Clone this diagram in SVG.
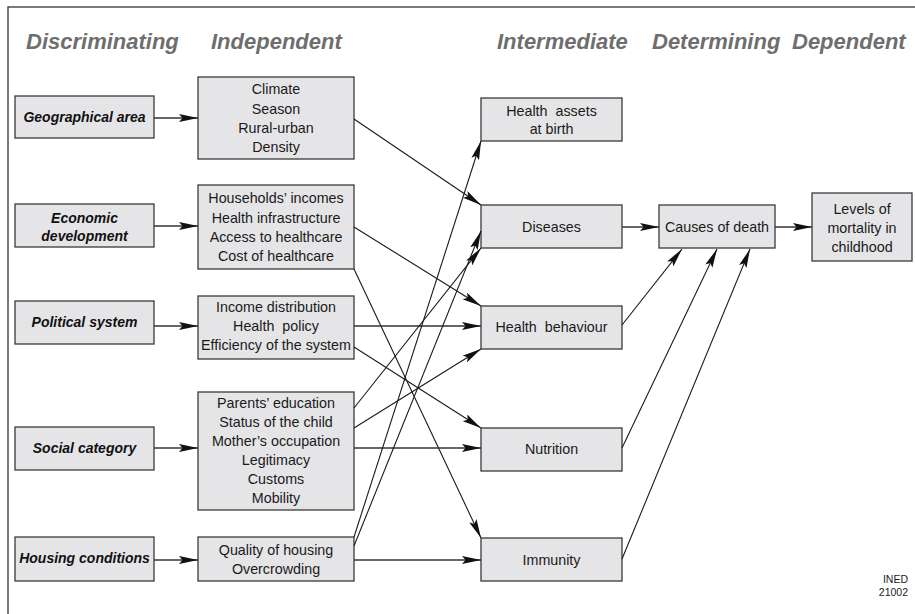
<svg xmlns="http://www.w3.org/2000/svg" width="915" height="614" viewBox="0 0 915 614">
<style>
.hdr{font-family:"Liberation Sans",Arial,sans-serif;font-size:22px;font-weight:bold;font-style:italic;fill:#6e6e6e}
.box{fill:#e5e5e7;stroke:#3a3a3a;stroke-width:1.3}
.lt{font-family:"Liberation Sans",Arial,sans-serif;font-size:14px;font-weight:bold;font-style:italic;fill:#111;text-anchor:middle}
.t{font-family:"Liberation Sans",Arial,sans-serif;font-size:14.3px;fill:#1a1a1a;text-anchor:middle}
.c{fill:none;stroke:#1a1a1a;stroke-width:1.1;marker-end:url(#ah)}
.h{stroke:#333;stroke-width:1.3}
.note{font-family:"Liberation Sans",Arial,sans-serif;font-size:10.5px;fill:#222;text-anchor:end}
</style>
<defs>
<marker id="ah" markerUnits="userSpaceOnUse" markerWidth="19" markerHeight="8" refX="19" refY="4" orient="auto" viewBox="0 0 19 8">
<path d="M0,0 L19,4 L0,8 L3.5,4 z" fill="#111"/>
</marker>
</defs>
<rect x="0" y="0" width="915" height="614" fill="#fff"/>
<rect x="8" y="7" width="920" height="620" fill="none" stroke="#333" stroke-width="1.3"/>

<g id="headers">
<text class="hdr" x="26" y="49">Discriminating</text>
<text class="hdr" x="211" y="49">Independent</text>
<text class="hdr" x="497" y="49">Intermediate</text>
<text class="hdr" x="652" y="49">Determining</text>
<text class="hdr" x="792" y="49">Dependent</text>
</g>

<g id="geo"><rect class="box" x="15" y="96" width="139" height="42"/><text class="lt" x="84.5" y="122">Geographical area</text></g>
<g id="eco"><rect class="box" x="15" y="204" width="139" height="43"/><text class="lt" x="84.5" y="223">Economic</text><text class="lt" x="84.5" y="241">development</text></g>
<g id="pol"><rect class="box" x="15" y="301" width="139" height="43"/><text class="lt" x="84.5" y="327">Political system</text></g>
<g id="soc"><rect class="box" x="15" y="427" width="139" height="43"/><text class="lt" x="84.5" y="453">Social category</text></g>
<g id="hou"><rect class="box" x="15" y="537" width="139" height="44"/><text class="lt" x="84.5" y="563">Housing conditions</text></g>

<g id="climate"><rect class="box" x="198" y="77" width="156" height="82"/>
<text class="t" x="276" y="94">Climate</text><text class="t" x="276" y="114">Season</text><text class="t" x="276" y="133">Rural-urban</text><text class="t" x="276" y="152">Density</text></g>
<g id="incomes"><rect class="box" x="198" y="185" width="156" height="84"/>
<text class="t" x="276" y="203">Households’ incomes</text><text class="t" x="276" y="223">Health infrastructure</text><text class="t" x="276" y="242">Access to healthcare</text><text class="t" x="276" y="261">Cost of healthcare</text></g>
<g id="distribution"><rect class="box" x="198" y="296" width="156" height="63"/>
<text class="t" x="276" y="312">Income distribution</text><text class="t" x="276" y="331" xml:space="preserve">Health  policy</text><text class="t" x="276" y="350">Efficiency of the system</text></g>
<g id="education"><rect class="box" x="198" y="392" width="156" height="118"/>
<text class="t" x="276" y="408">Parents’ education</text><text class="t" x="276" y="427">Status of the child</text><text class="t" x="276" y="446">Mother’s occupation</text><text class="t" x="276" y="465">Legitimacy</text><text class="t" x="276" y="484">Customs</text><text class="t" x="276" y="503">Mobility</text></g>
<g id="housing"><rect class="box" x="198" y="537" width="156" height="44"/>
<text class="t" x="276" y="555">Quality of housing</text><text class="t" x="276" y="574">Overcrowding</text></g>

<g id="assets"><rect class="box" x="481" y="98" width="141" height="43"/><text class="t" x="551.5" y="116" xml:space="preserve">Health  assets</text><text class="t" x="551.5" y="134">at birth</text></g>
<g id="diseases"><rect class="box" x="481" y="205" width="141" height="43"/><text class="t" x="551.5" y="232">Diseases</text></g>
<g id="behaviour"><rect class="box" x="481" y="306" width="141" height="43"/><text class="t" x="551.5" y="332" xml:space="preserve">Health  behaviour</text></g>
<g id="nutrition"><rect class="box" x="481" y="428" width="141" height="43"/><text class="t" x="551.5" y="454">Nutrition</text></g>
<g id="immunity"><rect class="box" x="481" y="538" width="141" height="43"/><text class="t" x="551.5" y="565">Immunity</text></g>

<g id="causes"><rect class="box" x="659" y="205" width="116" height="43"/><text class="t" x="717" y="232">Causes of death</text></g>
<g id="levels"><rect class="box" x="812" y="193" width="100" height="68"/>
<text class="t" x="862" y="214">Levels of</text><text class="t" x="862" y="233">mortality in</text><text class="t" x="862" y="252">childhood</text></g>

<g id="connectors">
<path class="c h" d="M154,118 H198"/>
<path class="c h" d="M154,226 H198"/>
<path class="c h" d="M154,326 H198"/>
<path class="c h" d="M154,448 H198"/>
<path class="c h" d="M154,560 H198"/>
<path class="c" d="M354,119 L481,205"/>
<path class="c" d="M354,227 L481,306"/>
<path class="c" d="M354,269 L481,538"/>
<path class="c h" d="M354,326 H481"/>
<path class="c" d="M354,347 L481,428"/>
<path class="c" d="M354,408 L481,248"/>
<path class="c" d="M354,428 L481,349"/>
<path class="c h" d="M354,448 H481"/>
<path class="c" d="M354,537 L481,141"/>
<path class="c" d="M354,546 L481,231"/>
<path class="c h" d="M354,560 H481"/>
<path class="c h" d="M622,227 H659"/>
<path class="c" d="M622,325 L682,249"/>
<path class="c" d="M622,448 L717,249"/>
<path class="c" d="M622,559 L750,249"/>
<path class="c h" d="M775,227 H812"/>
</g>

<g id="note">
<text class="note" x="908" y="583">INED</text>
<text class="note" x="908" y="596">21002</text>
</g>
</svg>
